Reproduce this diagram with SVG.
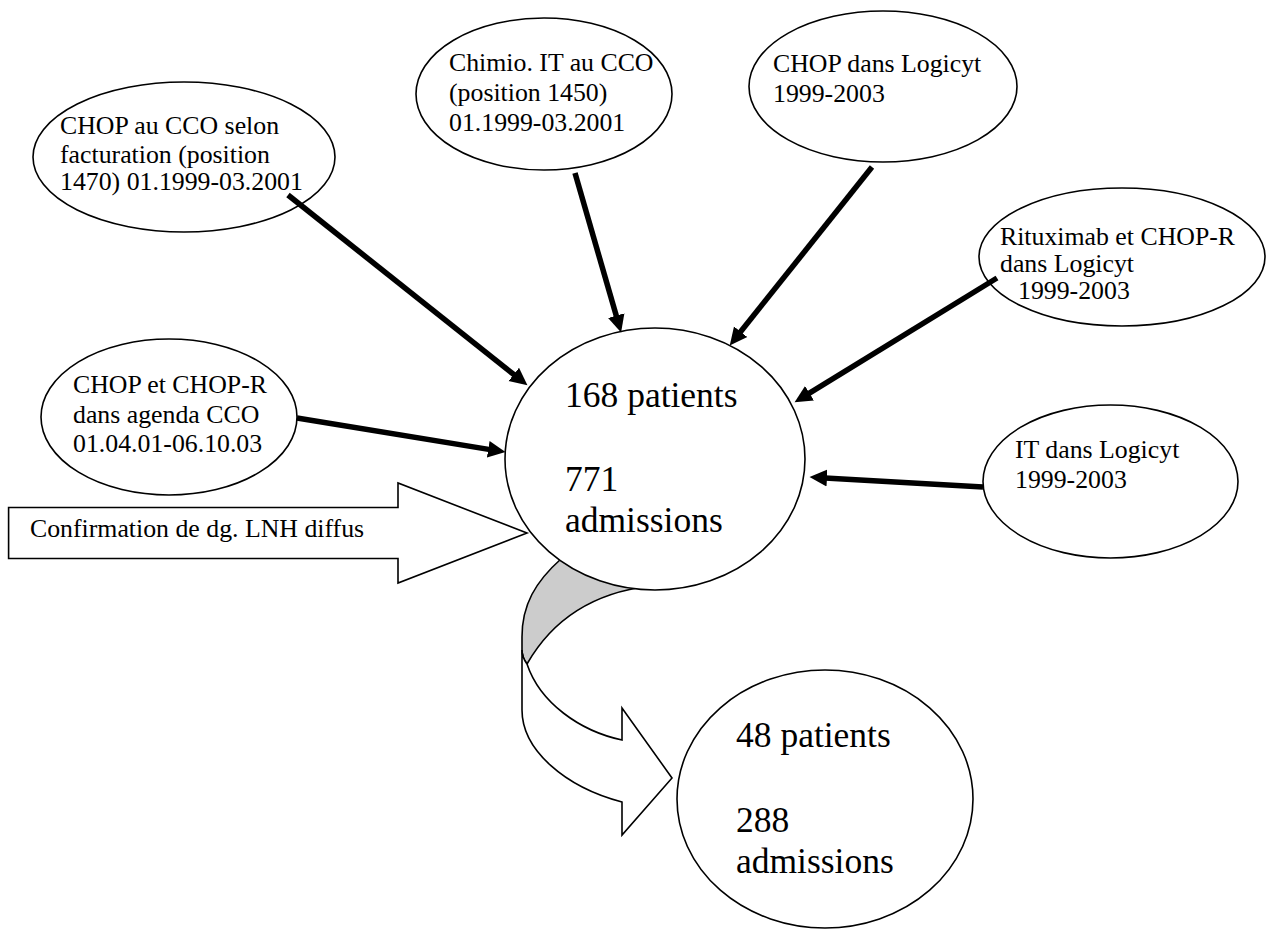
<svg xmlns="http://www.w3.org/2000/svg" width="1268" height="929" viewBox="0 0 1268 929">
<style>
.node{fill:#fff;stroke:#000;stroke-width:1.6}
.t{font-family:'Liberation Serif','DejaVu Serif',serif;font-size:25.8px;fill:#000}
.big{font-family:'Liberation Serif','DejaVu Serif',serif;font-size:35.5px;fill:#000}
.conn{stroke:#000;stroke-width:5.5;fill:none;marker-end:url(#ah)}
.shape{stroke:#000;stroke-width:1.6;stroke-linejoin:miter}
</style>
<defs>
<marker id="ah" viewBox="0 0 20 20" refX="2" refY="10" markerWidth="20" markerHeight="20" markerUnits="userSpaceOnUse" orient="auto">
<path d="M0,1.5 L17.5,10 L0,18.5 Z" fill="#000"/>
</marker>
</defs>
<rect width="1268" height="929" fill="#fff"/>

<g id="curved-arrow-back">
<path class="shape" fill="#cccccc" d="M527,664 C524,660 522,656 522,650 L522,637 C522,605 535,582 562,558 L600,540 L650,540 L650,586 C600,592 555,615 527,664 Z"/>
</g>

<g id="block-arrow">
<polygon class="shape" fill="#fff" points="8.6,507.5 398,507.5 398,483 527,533 398,583 398,558.5 8.6,558.5"/>
<text class="t" x="30" y="537">Confirmation de dg. LNH diffus</text>
</g>

<g id="n-center">
<ellipse class="node" cx="655" cy="459" rx="150" ry="131"/>
<text class="big" x="565" y="407">168 patients</text>
<text class="big" x="565" y="491">771</text>
<text class="big" x="565" y="532">admissions</text>
</g>

<g id="curved-arrow-front">
<path class="shape" fill="#fff" d="M527,664 C540,703 580,731 622,740 L622,708 L672,778 L622,835 L622,802 C565,787 522,750 522,710 L522,650 C522,656 524,660 527,664 Z"/>
</g>

<g id="n-result">
<ellipse class="node" cx="825" cy="799" rx="148" ry="129"/>
<text class="big" x="736" y="747">48 patients</text>
<text class="big" x="736" y="832">288</text>
<text class="big" x="736" y="873">admissions</text>
</g>

<g id="n-chop-facturation">
<ellipse class="node" cx="184" cy="157" rx="151" ry="75"/>
<text class="t" x="60" y="134">CHOP au CCO selon</text>
<text class="t" x="60" y="162.5">facturation (position</text>
<text class="t" x="60" y="190">1470) 01.1999-03.2001</text>
</g>

<g id="n-chimio-it">
<ellipse class="node" cx="544" cy="94" rx="128" ry="76"/>
<text class="t" x="449" y="71">Chimio. IT au CCO</text>
<text class="t" x="449" y="101">(position 1450)</text>
<text class="t" x="449" y="131">01.1999-03.2001</text>
</g>

<g id="n-chop-logicyt">
<ellipse class="node" cx="883" cy="86.5" rx="134" ry="75.5"/>
<text class="t" x="773" y="72">CHOP dans Logicyt</text>
<text class="t" x="773" y="102">1999-2003</text>
</g>

<g id="n-rituximab">
<ellipse class="node" cx="1122" cy="257" rx="143" ry="69"/>
<text class="t" x="1000" y="245">Rituximab et CHOP-R</text>
<text class="t" x="1000" y="272">dans Logicyt</text>
<text class="t" x="1018" y="299">1999-2003</text>
</g>

<g id="n-chop-agenda">
<ellipse class="node" cx="169" cy="417" rx="128" ry="78"/>
<text class="t" x="73" y="393">CHOP et CHOP-R</text>
<text class="t" x="73" y="423">dans agenda CCO</text>
<text class="t" x="73" y="452">01.04.01-06.10.03</text>
</g>

<g id="n-it-logicyt">
<ellipse class="node" cx="1110.5" cy="481.5" rx="127.5" ry="76.5"/>
<text class="t" x="1015" y="458">IT dans Logicyt</text>
<text class="t" x="1015" y="488">1999-2003</text>
</g>

<g id="connectors">
<line class="conn" x1="288" y1="195" x2="515.3" y2="375.7"/>
<line class="conn" x1="575" y1="173" x2="616.8" y2="317.6"/>
<line class="conn" x1="872" y1="167" x2="739.4" y2="333.3"/>
<line class="conn" x1="997" y1="278" x2="807.8" y2="394.2"/>
<line class="conn" x1="297" y1="418" x2="490.2" y2="449.6"/>
<line class="conn" x1="983" y1="487" x2="825" y2="477.9"/>
</g>
</svg>
